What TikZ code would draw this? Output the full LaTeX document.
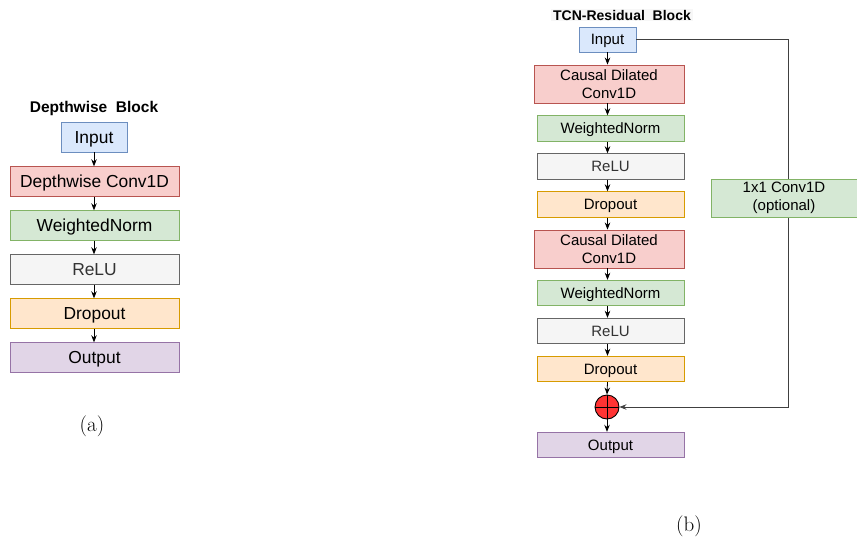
\documentclass[tikz,border=0pt]{standalone}
\usepackage{fontspec}
\setsansfont{Liberation Sans}
\usetikzlibrary{arrows.meta}
\definecolor{bluef}{HTML}{DAE8FC}\definecolor{blued}{HTML}{6C8EBF}
\definecolor{redf}{HTML}{F8CECC}\definecolor{redd}{HTML}{B85450}
\definecolor{greenf}{HTML}{D5E8D4}\definecolor{greend}{HTML}{82B366}
\definecolor{grayf}{HTML}{F5F5F5}\definecolor{grayd}{HTML}{666666}
\definecolor{orangef}{HTML}{FFE6CC}\definecolor{oranged}{HTML}{D79B00}
\definecolor{purplef}{HTML}{E1D5E7}\definecolor{purpled}{HTML}{9673A6}
\definecolor{plusred}{HTML}{FF3333}
\tikzset{
  blk/.style={rectangle, inner sep=0pt, line width=0.9pt, align=center, font=\sffamily},
  onea/.style={text height=12.6pt, text depth=0pt},
  oneb/.style={text height=10.8pt, text depth=0pt},
  fa/.style={font=\sffamily\fontsize{17.4}{20}\selectfont, minimum width=169pt, minimum height=29.5pt, onea},
  fb/.style={font=\sffamily\fontsize{15}{18}\selectfont, minimum width=147pt, minimum height=25.5pt},
  cblue/.style={fill=bluef, draw=blued},
  cred/.style={fill=redf, draw=redd},
  cgreen/.style={fill=greenf, draw=greend},
  cgray/.style={fill=grayf, draw=grayd, text=black!80},
  corange/.style={fill=orangef, draw=oranged},
  cpurple/.style={fill=purplef, draw=purpled},
  arr/.style={-{Stealth[length=7pt,width=5.5pt]}, line width=0.8pt, black},
  ttl/.style={font=\sffamily\bfseries\fontsize{15.5}{18}\selectfont, inner sep=1pt},
  subcap/.style={font=\fontsize{21}{24}\selectfont},
}
\begin{document}
\begin{tikzpicture}[x=1pt,y=-1pt]
\useasboundingbox (0,0) rectangle (857,541);
% ---- panel (a)
\node[ttl] (atitle) at (94,108) {Depthwise~~Block};
\node[blk,fa,cblue,minimum width=66pt,minimum height=30pt] (ain) at (94,137) {Input};
\node[blk,fa,cred] (aconv) at (94.5,181.5) {Depthwise Conv1D};
\node[blk,fa,cgreen] (anorm) at (94.5,225.5) {WeightedNorm};
\node[blk,fa,cgray] (arelu) at (94.5,269.5) {ReLU};
\node[blk,fa,corange] (adrop) at (94.5,313.5) {Dropout};
\node[blk,fa,cpurple] (aout) at (94.5,357.5) {Output};
\draw[arr] (ain.south) -- (ain.south |- aconv.north);
\draw[arr] (ain.south |- aconv.south) -- (ain.south |- anorm.north);
\draw[arr] (ain.south |- anorm.south) -- (ain.south |- arelu.north);
\draw[arr] (ain.south |- arelu.south) -- (ain.south |- adrop.north);
\draw[arr] (ain.south |- adrop.south) -- (ain.south |- aout.north);
\node[subcap] (acap) at (92,426) {(a)};
% ---- panel (b)
\node[ttl, fill=black!3, font=\sffamily\bfseries\fontsize{14}{16}\selectfont, inner xsep=2pt] (btitle) at (622,15) {TCN-Residual~~Block};
\node[blk,fb,oneb,cblue,minimum width=57pt,minimum height=25pt] (bin) at (607.5,39.5) {Input};
\node[blk,fb,cred,minimum width=150pt,minimum height=38pt] (bconv1) at (609,84) {Causal Dilated\\Conv1D};
\node[blk,fb,oneb,cgreen] (bnorm1) at (610.5,128.5) {WeightedNorm};
\node[blk,fb,oneb,cgray] (brelu1) at (610.5,166.5) {ReLU};
\node[blk,fb,oneb,corange] (bdrop1) at (610.5,204.5) {Dropout};
\node[blk,fb,cred,minimum width=150pt,minimum height=38pt] (bconv2) at (609,249) {Causal Dilated\\Conv1D};
\node[blk,fb,oneb,cgreen] (bnorm2) at (610.5,293) {WeightedNorm};
\node[blk,fb,oneb,cgray] (brelu2) at (610.5,331) {ReLU};
\node[blk,fb,oneb,corange] (bdrop2) at (610.5,369) {Dropout};
\node[circle, draw=black, fill=plusred, line width=0.9pt, minimum size=24pt, inner sep=0pt] (plus) at (607,407) {};
\draw[line width=0.9pt] (plus.north) -- (plus.south) (plus.west) -- (plus.east);
\node[blk,fb,oneb,cpurple] (bout) at (610.5,445) {Output};
\draw[arr] (bin.south) -- (bin.south |- bconv1.north);
\draw[arr] (bin.south |- bconv1.south) -- (bin.south |- bnorm1.north);
\draw[arr] (bin.south |- bnorm1.south) -- (bin.south |- brelu1.north);
\draw[arr] (bin.south |- brelu1.south) -- (bin.south |- bdrop1.north);
\draw[arr] (bin.south |- bdrop1.south) -- (bin.south |- bconv2.north);
\draw[arr] (bin.south |- bconv2.south) -- (bin.south |- bnorm2.north);
\draw[arr] (bin.south |- bnorm2.south) -- (bin.south |- brelu2.north);
\draw[arr] (bin.south |- brelu2.south) -- (bin.south |- bdrop2.north);
\draw[arr] (bin.south |- bdrop2.south) -- (plus.north);
\draw[arr] (plus.south) -- (plus.south |- bout.north);
% skip connection
\coordinate (s1) at (788,39.5);
\coordinate (s2) at (788,407);
\draw[arr, black!75] (bin.east) -- (s1) -- (s2) -- (plus.east);
\node[blk,fb,cgreen,minimum width=146pt,minimum height=38pt] (skip) at (784,198) {1x1 Conv1D\\(optional)};
\node[subcap] (bcap) at (689,526) {(b)};
\end{tikzpicture}
\end{document}
